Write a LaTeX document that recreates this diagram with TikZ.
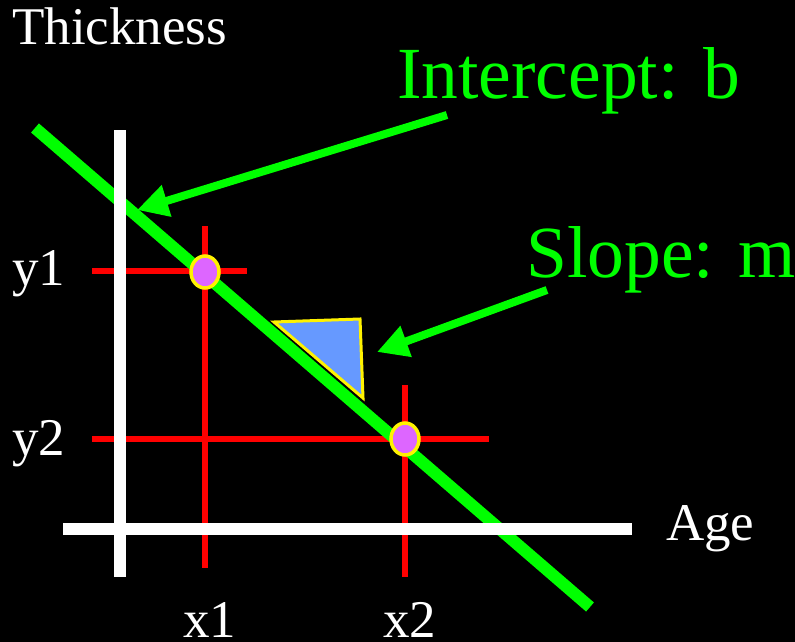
\documentclass[tikz,border=0pt]{standalone}
\usepackage{fontspec}
\setmainfont{Liberation Serif}
\usetikzlibrary{arrows.meta,shapes.geometric}
\definecolor{lgreen}{HTML}{00FF00}
\definecolor{dotfill}{HTML}{DD66FF}
\definecolor{tribl}{HTML}{6699FF}
\begin{document}
\begin{tikzpicture}[x=1pt,y=-1pt,
  axis/.style={draw=white,line width=12pt},
  guide/.style={draw=red,line width=5.5pt},
  fitline/.style={draw=lgreen,line width=12pt},
  pointer/.style={draw=lgreen,line width=8pt,-{Triangle[length=31pt,width=31pt]}},
  dot/.style={ellipse,draw=yellow,fill=dotfill,line width=3.5pt,minimum width=28pt,minimum height=32pt,inner sep=0pt},
  lbl/.style={anchor=base west,text=white,font=\fontsize{53}{60}\selectfont,inner sep=0pt},
  glbl/.style={anchor=base west,text=lgreen,font=\fontsize{73.5}{84}\selectfont,inner sep=0pt}]
\fill[black] (0,0) rectangle (795,642);
\useasboundingbox (0,0) rectangle (795,642);
% coordinates
\coordinate (vtop) at (120,130);
\coordinate (vbot) at (120,577);
\coordinate (hl) at (63,529);
\coordinate (hr) at (632,529);
\coordinate (gs) at (35,128);
\coordinate (ge) at (590,607);
\coordinate (r1t) at (205,226);
\coordinate (r1b) at (205,568);
\coordinate (r2t) at (405,385);
\coordinate (r2b) at (405,577);
\coordinate (h1l) at (92,271);
\coordinate (h1r) at (247,271);
\coordinate (h2l) at (92,439);
\coordinate (h2r) at (489,439);
\coordinate (a1s) at (447,115);
\coordinate (a1e) at (137,210);
\coordinate (a2s) at (547,290);
\coordinate (a2e) at (377,352);
\coordinate (t1) at (274,322);
\coordinate (t2) at (360,319);
\coordinate (t3) at (363,398);
% red guides
\draw[guide] (r1t) -- (r1b);
\draw[guide] (r2t) -- (r2b);
\draw[guide] (h1l) -- (h1r);
\draw[guide] (h2l) -- (h2r);
% green line
\draw[fitline] (gs) -- (ge);
% axes
\draw[axis] (vtop) -- (vbot);
\draw[axis] (hl) -- (hr);
% dots
\node[dot] (p1) at (205,272) {};
\node[dot] (p2) at (405,439) {};
% triangle
\filldraw[fill=tribl,draw=yellow,line width=3pt,line join=miter] (t1) -- (t2) -- (t3) -- cycle;
% arrows
\draw[pointer] (a1s) -- (a1e);
\draw[pointer] (a2s) -- (a2e);
% labels
\node[lbl] (thick) at (12,45) {Thickness};
\node[lbl] (age) at (666,540) {Age};
\node[lbl] (y1) at (12,285) {y1};
\node[lbl] (y2) at (12,455) {y2};
\node[lbl] (x1) at (183,637) {x1};
\node[lbl] (x2) at (383,637) {x2};
\node[glbl] (icpt) at (397,99) {Intercept: b};
\node[glbl] (slope) at (526,277) {Slope: m};
\end{tikzpicture}
\end{document}
